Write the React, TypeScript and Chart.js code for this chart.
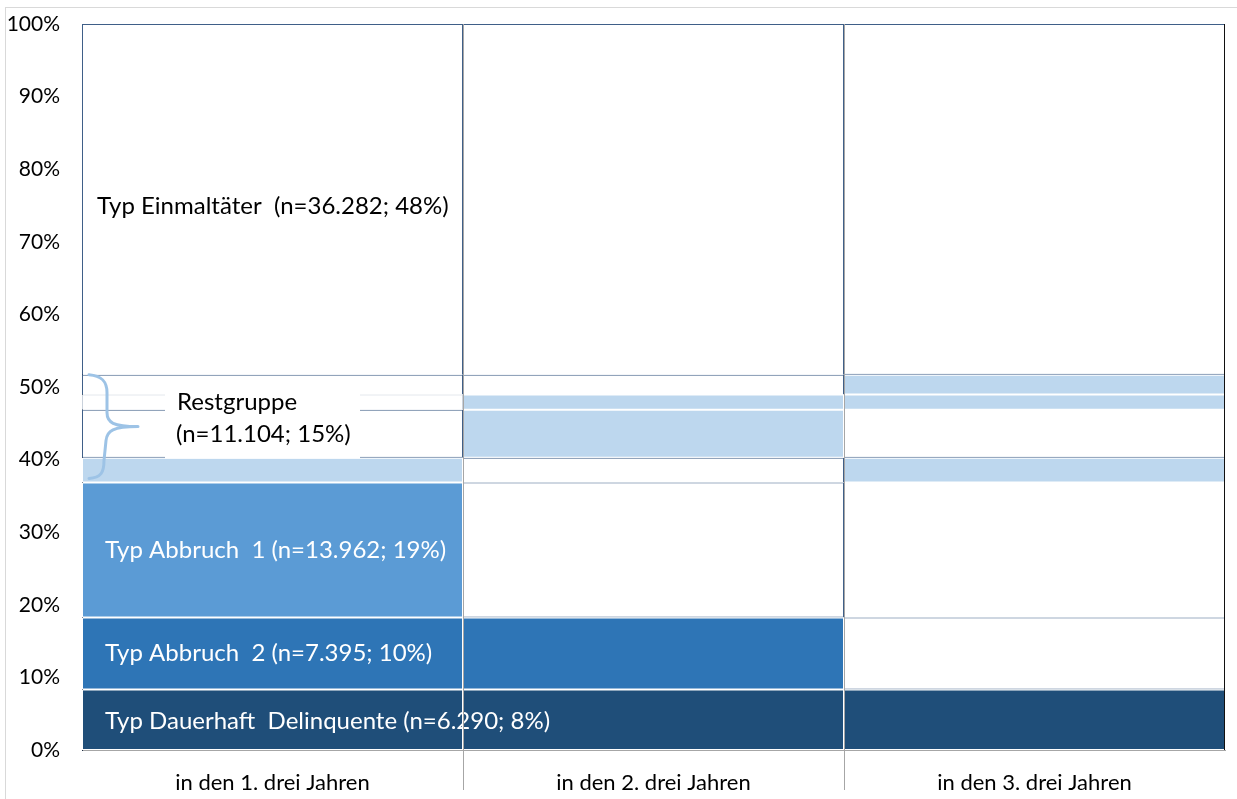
import React, { useEffect, useRef } from 'react';
import { Chart, registerables } from 'chart.js';

Chart.register(...registerables);

// ---------- data ----------
const categories = ['in den 1. drei Jahren', 'in den 2. drei Jahren', 'in den 3. drei Jahren'];
const yTickValues = [0, 10, 20, 30, 40, 50, 60, 70, 80, 90, 100];

// stacked segment heights (% of all persons), bottom to top, same in every period
const dauerhaftShare = [8.35, 8.35, 8.35];
const abbruch2Share = [9.9, 9.9, 9.9];
const abbruch1Share = [18.6, 18.6, 18.6];
const rest1Share = [3.4, 3.4, 3.4];
const rest2Share = [6.6, 6.6, 6.6];
const rest3Share = [2.1, 2.1, 2.1];
const rest4Share = [2.75, 2.75, 2.75];
const einmalShare = [48.3, 48.3, 48.3];

// which fill each segment has in each period ('none' = white / not delinquent)
const dauerhaftFill = ['dark', 'dark', 'dark'];
const abbruch2Fill = ['mid', 'mid', 'none'];
const abbruch1Fill = ['blue', 'none', 'none'];
const rest1Fill = ['light', 'none', 'light'];
const rest2Fill = ['none', 'light', 'none'];
const rest3Fill = ['none', 'light', 'light'];
const rest4Fill = ['none', 'none', 'light'];
const einmalFill = ['none', 'none', 'none'];

const typeLabelTexts = [
  'Typ Einmaltäter  (n=36.282; 48%)',
  'Typ Abbruch  1 (n=13.962; 19%)',
  'Typ Abbruch  2 (n=7.395; 10%)',
  'Typ Dauerhaft  Delinquente (n=6.290; 8%)',
];
const restLabelLines = ['Restgruppe', '(n=11.104; 15%)'];

// ---------- styles ----------
const FILL_COLORS: Record<string, string> = {
  dark: '#1F4E79',
  mid: '#2E75B6',
  blue: '#5B9BD5',
  light: '#BDD7EE',
  none: '#FFFFFF',
};
const EDGE_DARK = '#3F5F88';
const EDGE_FAINT = '#C9D1DB';
const FONT = 'Lato, "Open Sans", sans-serif';
const LABEL_SIZE = 24;

const segments = [
  { name: 'Dauerhaft', data: dauerhaftShare, fill: dauerhaftFill },
  { name: 'Abbruch 2', data: abbruch2Share, fill: abbruch2Fill },
  { name: 'Abbruch 1', data: abbruch1Share, fill: abbruch1Fill },
  { name: 'Rest 1', data: rest1Share, fill: rest1Fill },
  { name: 'Rest 2', data: rest2Share, fill: rest2Fill },
  { name: 'Rest 3', data: rest3Share, fill: rest3Fill },
  { name: 'Rest 4', data: rest4Share, fill: rest4Fill },
  { name: 'Einmaltäter', data: einmalShare, fill: einmalFill },
];

// label placement: segment index, text, colour, x offset from bar left, y offset
const typeLabelSpecs = [
  { seg: 7, text: typeLabelTexts[0], color: '#000000', dx: 15, dy: 7 },
  { seg: 2, text: typeLabelTexts[1], color: '#FFFFFF', dx: 23, dy: 0 },
  { seg: 1, text: typeLabelTexts[2], color: '#FFFFFF', dx: 23, dy: 0 },
  { seg: 0, text: typeLabelTexts[3], color: '#FFFFFF', dx: 23, dy: 2 },
];

function edgeWidth(si: number, ci: number) {
  const f = segments[si].fill[ci];
  if (f !== 'none') return 1;
  const below = si > 0 ? segments[si - 1].fill[ci] : 'x';
  let top = 1;
  let bottom = below === 'none' ? 0 : 1;
  if (si === 6 && ci === 1) bottom = 0;
  if (si === 4 && ci === 2) top = 0;
  if (si === 2 && ci === 2) top = 0;
  return { top, bottom, left: 1, right: 1 };
}
function edgeColor(si: number, ci: number) {
  const f = segments[si].fill[ci];
  if (f !== 'none') return '#FFFFFF';
  if (si === 5 && ci === 0) return EDGE_FAINT;
  return EDGE_DARK;
}

const decorPlugin = {
  id: 'decor',
  afterDatasetsDraw(chart: any) {
    const ctx = chart.ctx;
    ctx.save();
    ctx.font = `${LABEL_SIZE}px ${FONT}`;
    ctx.textBaseline = 'middle';
    ctx.textAlign = 'left';
    typeLabelSpecs.forEach((s) => {
      const el = chart.getDatasetMeta(s.seg).data[0];
      const left = el.x - el.width / 2;
      const yc = (el.y + el.base) / 2;
      ctx.fillStyle = s.color;
      ctx.fillText(s.text, left + s.dx, yc + s.dy);
    });

    // Restgruppe brace and label
    const firstRest = chart.getDatasetMeta(3).data[0];
    const lastRest = chart.getDatasetMeta(6).data[0];
    const left = firstRest.x - firstRest.width / 2;
    const yTop = lastRest.y;
    const yBot = firstRest.base - 4;
    const ym = (yTop + yBot) / 2;
    const x0 = left + 7;
    const xs = left + 25;
    const xt = left + 56;

    ctx.fillStyle = '#FFFFFF';
    ctx.fillRect(left + 83, yTop + 6, 195, ym - yTop + 26);

    ctx.strokeStyle = '#9DC3E6';
    ctx.lineWidth = 3;
    ctx.lineCap = 'round';
    ctx.beginPath();
    ctx.moveTo(x0, yTop);
    ctx.bezierCurveTo(x0 + 12, yTop + 1, xs, yTop + 6, xs, yTop + 18);
    ctx.lineTo(xs, ym - 14);
    ctx.bezierCurveTo(xs, ym - 4, xs + 6, ym, xt, ym);
    ctx.moveTo(xt, ym);
    ctx.bezierCurveTo(xs + 6, ym, xs, ym + 4, xs - 1, ym + 14);
    ctx.lineTo(xs - 3, yBot - 18);
    ctx.bezierCurveTo(xs - 3, yBot - 6, x0 + 12, yBot - 1, x0, yBot);
    ctx.stroke();

    ctx.fillStyle = '#000000';
    ctx.font = `${LABEL_SIZE}px ${FONT}`;
    ctx.fillText(restLabelLines[0], left + 95, ym - 24);
    ctx.fillText(restLabelLines[1], left + 94, ym + 8);
    ctx.restore();
  },
  afterDraw(chart: any) {
    const ctx = chart.ctx;
    const xScale = chart.scales.x;
    const area = chart.chartArea;
    ctx.save();
    ctx.lineWidth = 1;
    ctx.strokeStyle = '#A6A6A6';
    for (let i = 1; i < categories.length; i++) {
      const xb = Math.round((xScale.getPixelForValue(i - 1) + xScale.getPixelForValue(i)) / 2) + 0.5;
      ctx.beginPath();
      ctx.moveTo(xb, area.top);
      ctx.lineTo(xb, area.bottom + 40);
      ctx.stroke();
    }
    ctx.strokeStyle = '#111111';
    ctx.beginPath();
    ctx.moveTo(area.right - 0.5, area.top);
    ctx.lineTo(area.right - 0.5, area.bottom);
    ctx.stroke();
    ctx.restore();
  },
};

export default function App() {
  const canvasRef = useRef<HTMLCanvasElement | null>(null);

  useEffect(() => {
    if (!canvasRef.current) return;
    const chart = new Chart(canvasRef.current, {
      type: 'bar',
      data: {
        labels: categories,
        datasets: segments.map((s, si) => ({
          label: s.name,
          data: s.data,
          backgroundColor: s.fill.map((f) => FILL_COLORS[f]),
          borderColor: (c: any) => edgeColor(si, c.dataIndex),
          borderWidth: (c: any) => edgeWidth(si, c.dataIndex),
          borderSkipped: false,
          categoryPercentage: 1,
          barPercentage: 1,
          inflateAmount: 0,
        })),
      },
      options: {
        responsive: false,
        animation: false,
        devicePixelRatio: 1,
        layout: { padding: { top: 24, right: 12, bottom: 0, left: 0 } },
        plugins: {
          legend: { display: false },
          tooltip: { enabled: false },
        },
        scales: {
          x: {
            stacked: true,
            z: 1,
            grid: { display: false, drawTicks: false },
            border: { display: true, color: '#A6A6A6', width: 1 },
            ticks: {
              color: '#000000',
              font: { family: FONT, size: 22 },
              padding: 20,
              maxRotation: 0,
            },
            afterFit: (s: any) => {
              s.height = 49;
              s.paddingLeft = 0;
              s.paddingRight = 0;
            },
          },
          y: {
            stacked: true,
            min: 0,
            max: 100,
            z: 1,
            grid: { display: false, drawTicks: false },
            border: { display: true, color: '#1F2F44', width: 1 },
            afterBuildTicks: (s: any) => {
              s.ticks = yTickValues.map((v) => ({ value: v }));
            },
            ticks: {
              color: '#000000',
              font: { family: FONT, size: 21 },
              padding: 22,
              callback: (v: any) => `${v}%`,
            },
            afterFit: (s: any) => {
              s.width = 82;
              s.paddingTop = 0;
              s.paddingBottom = 0;
            },
          },
        },
      },
      plugins: [decorPlugin],
    } as any);
    return () => chart.destroy();
  }, []);

  return (
    <div style={{ position: 'fixed', left: 0, top: 0, width: 1237, height: 799, overflow: 'hidden', background: '#FFFFFF' }}>
      <div
        style={{
          position: 'absolute',
          left: 5,
          top: 7,
          width: 1300,
          height: 900,
          border: '1px solid #D9D9D9',
        }}
      />
      <canvas
        ref={canvasRef}
        width={1237}
        height={799}
        style={{ position: 'absolute', left: 0, top: 0, width: 1237, height: 799 }}
      />
    </div>
  );
}
